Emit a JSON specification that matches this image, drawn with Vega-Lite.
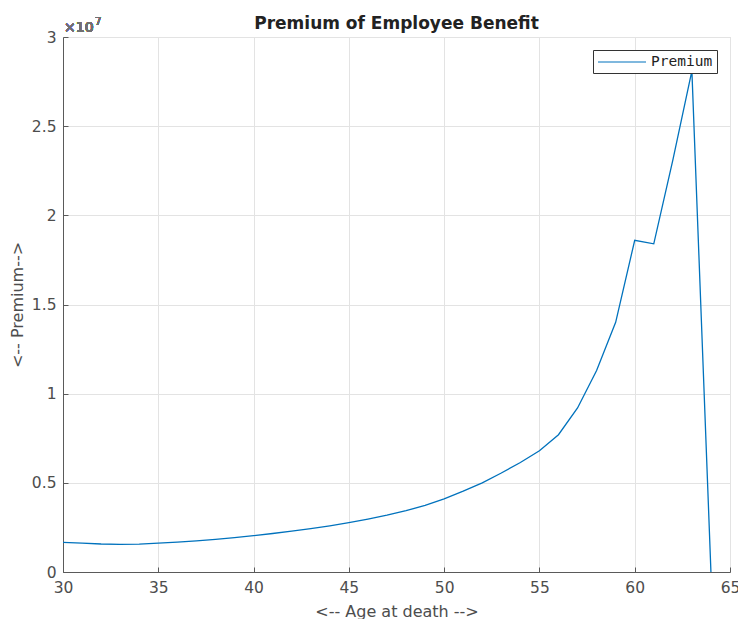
{
  "$schema": "https://vega.github.io/schema/vega-lite/v6.json",
  "autosize": "none",
  "width": 667,
  "height": 535,
  "padding": {"left": 63, "top": 37, "right": 8, "bottom": 47},
  "background": "white",
  "config": {
    "font": "DejaVu Sans",
    "view": {"stroke": "#d9d9d9", "strokeWidth": 1},
    "axis": {
      "domainColor": "#5a5a5a",
      "tickColor": "#5a5a5a",
      "gridColor": "#e3e3e3",
      "gridOpacity": 1,
      "labelColor": "#4d4d4d",
      "titleColor": "#4d4d4d",
      "labelFont": "DejaVu Sans",
      "titleFont": "DejaVu Sans",
      "labelFontSize": 15.5,
      "titleFontSize": 16,
      "titleFontWeight": "normal"
    }
  },
  "title": {
    "text": "Premium of Employee Benefit",
    "fontSize": 17,
    "fontWeight": "bold",
    "font": "DejaVu Sans",
    "color": "#222222",
    "anchor": "middle",
    "frame": "group",
    "offset": 6,
    "dy": 22
  },
  "data": {
    "values": [
      {"age": 30, "premium": 1660000},
      {"age": 31, "premium": 1620000},
      {"age": 32, "premium": 1570000},
      {"age": 33, "premium": 1550000},
      {"age": 34, "premium": 1560000},
      {"age": 35, "premium": 1620000},
      {"age": 36, "premium": 1680000},
      {"age": 37, "premium": 1750000},
      {"age": 38, "premium": 1830000},
      {"age": 39, "premium": 1930000},
      {"age": 40, "premium": 2040000},
      {"age": 41, "premium": 2160000},
      {"age": 42, "premium": 2290000},
      {"age": 43, "premium": 2430000},
      {"age": 44, "premium": 2590000},
      {"age": 45, "premium": 2770000},
      {"age": 46, "premium": 2970000},
      {"age": 47, "premium": 3190000},
      {"age": 48, "premium": 3440000},
      {"age": 49, "premium": 3730000},
      {"age": 50, "premium": 4100000},
      {"age": 51, "premium": 4530000},
      {"age": 52, "premium": 5000000},
      {"age": 53, "premium": 5550000},
      {"age": 54, "premium": 6140000},
      {"age": 55, "premium": 6800000},
      {"age": 56, "premium": 7700000},
      {"age": 57, "premium": 9200000},
      {"age": 58, "premium": 11300000},
      {"age": 59, "premium": 14000000},
      {"age": 60, "premium": 18600000},
      {"age": 61, "premium": 18400000},
      {"age": 62, "premium": 23100000},
      {"age": 63, "premium": 28100000},
      {"age": 64, "premium": 0}
    ]
  },
  "layer": [
    {
      "mark": {"type": "line", "strokeWidth": 1.3, "clip": true},
      "encoding": {
        "x": {
          "field": "age", "type": "quantitative",
          "scale": {"domain": [30, 65], "nice": false, "zero": false},
          "axis": {
            "title": "<-- Age at death -->",
            "values": [30, 35, 40, 45, 50, 55, 60, 65],
            "tickSize": -5,
            "labelPadding": 13,
            "titlePadding": 8,
            "labelFlush": false
          }
        },
        "y": {
          "field": "premium", "type": "quantitative",
          "scale": {"domain": [0, 30000000], "nice": false},
          "axis": {
            "title": "<-- Premium-->",
            "values": [0, 5000000, 10000000, 15000000, 20000000, 25000000, 30000000],
            "labelExpr": "format(datum.value / 10000000, '~g')",
            "tickSize": -5,
            "labelPadding": 12,
            "titlePadding": 6,
            "labelFlush": false
          }
        },
        "color": {
          "datum": "Premium",
          "type": "nominal",
          "scale": {"range": ["#0072BD"]},
          "legend": {
            "title": null,
            "orient": "top-right",
            "offset": 13,
            "symbolType": "M-3.43,0H3.43",
            "symbolSize": 196,
            "symbolOffset": 17,
            "labelOffset": 21,
            "labelExpr": "datum.label + ' '",
            "symbolStrokeWidth": 1.2,
            "labelFontSize": 14.5,
            "labelColor": "#222222",
            "labelFont": "DejaVu Sans Mono",
            "strokeColor": "#333333",
            "fillColor": "white",
            "padding": 4
          }
        }
      }
    },
    {
      "mark": {"type": "text", "align": "left", "baseline": "alphabetic", "dx": 1, "dy": -5, "fontSize": 14, "fill": "#707070", "fontWeight": "normal", "font": "DejaVu Sans"},
      "encoding": {
        "x": {"datum": 30, "type": "quantitative"},
        "y": {"datum": 30000000, "type": "quantitative"},
        "text": {"value": "×10"}
      }
    },
    {
      "mark": {"type": "text", "align": "left", "baseline": "alphabetic", "dx": 32, "dy": -12, "fontSize": 10, "fill": "#707070", "fontWeight": "normal", "font": "DejaVu Sans"},
      "encoding": {
        "x": {"datum": 30, "type": "quantitative"},
        "y": {"datum": 30000000, "type": "quantitative"},
        "text": {"value": "7"}
      }
    }
  ]
}
